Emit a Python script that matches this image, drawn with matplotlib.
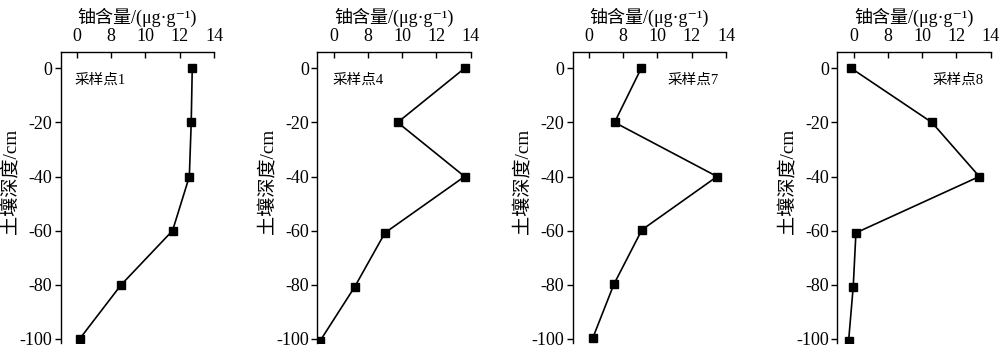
import numpy as np
import matplotlib
matplotlib.use("Agg")
import matplotlib.pyplot as plt

plt.rcParams['font.family'] = ['Liberation Serif', 'Noto Sans CJK SC', 'DejaVu Sans']
plt.rcParams['axes.unicode_minus'] = False

# depth (cm) and uranium content (ug/g) per sampling site
site_names = ['采样点1', '采样点4', '采样点7', '采样点8']
depth_1 = [0, -20, -40, -60, -80, -100]
uran_1 = [12.73, 12.67, 12.56, 11.58, 8.58, 0.62]
depth_4 = [0, -20, -40, -60.8, -80.7, -100.6]
uran_4 = [13.65, 9.74, 13.65, 9.0, 4.96, -3.1]
depth_7 = [0, -20, -40, -59.7, -79.8, -99.5]
uran_7 = [9.05, 5.98, 13.48, 9.09, 5.82, 0.93]
depth_8 = [0, -20, -40, -60.8, -80.7, -100.9]
uran_8 = [-0.55, 10.57, 13.34, 0.55, -0.08, -1.17]

x_ticks = [0, 8, 10, 12, 14]
y_ticks = [0, -20, -40, -60, -80, -100]


# broken axis: 0-8 squeezed into one tick step
def fwd(x):
    x = np.asarray(x, dtype=float)
    return np.where(x < 8, x / 8, 1 + (x - 8) / 2)


def inv(u):
    u = np.asarray(u, dtype=float)
    return np.where(u < 1, u * 8, 8 + (u - 1) * 2)


fig = plt.figure(figsize=(10, 3.51), dpi=100)

lefts = [0.0607, 0.3173, 0.5727, 0.8373]
label_pos = [0.087, 0.10, 0.62, 0.62]
data = [(uran_1, depth_1), (uran_4, depth_4), (uran_7, depth_7), (uran_8, depth_8)]

for i in range(4):
    ax = fig.add_axes([lefts[i], 0.0228, 0.1533, 0.829])
    x, y = data[i]
    ax.plot(x, y, color='black', lw=1.2, marker='s', ms=5.5, mfc='black', mec='black')
    ax.set_xscale('function', functions=(fwd, inv))
    ax.set_xlim(-3.8, 14)
    ax.set_ylim(-101.5, 6)
    ax.set_xticks(x_ticks)
    ax.set_xticklabels([str(t) for t in x_ticks])
    ax.set_yticks(y_ticks)
    ax.set_yticklabels([str(t) for t in y_ticks])
    ax.xaxis.tick_top()
    ax.xaxis.set_label_position('top')
    ax.tick_params(axis='x', direction='in', length=4, width=1, labelsize=13, pad=5)
    ax.tick_params(axis='y', direction='out', length=4, width=1, labelsize=13, pad=2)
    ax.spines['right'].set_visible(False)
    ax.spines['bottom'].set_visible(False)
    ax.spines['top'].set_linewidth(1)
    ax.spines['left'].set_linewidth(1)
    ax.set_xlabel('铀含量/(μg·g⁻¹)', fontsize=13, labelpad=4)
    ax.set_ylabel('土壤深度/cm', fontsize=13.8)
    ax.yaxis.set_label_coords(-0.26, 0.555)
    ax.text(label_pos[i], 0.904, site_names[i], transform=ax.transAxes,
            ha='left', va='center', fontsize=10.5)

fig.savefig('out.png', dpi=100)
